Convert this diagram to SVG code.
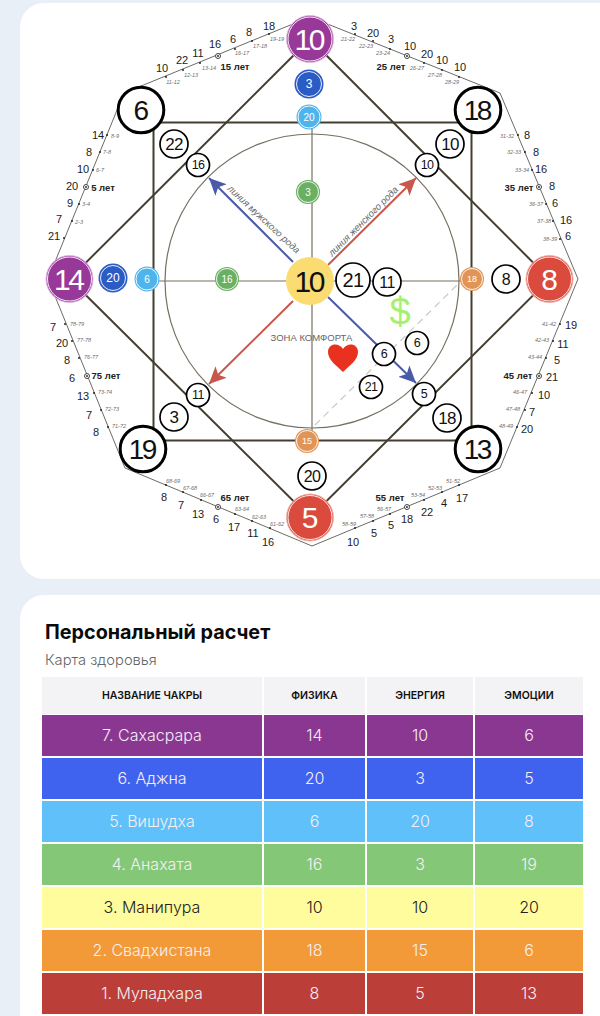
<svg xmlns="http://www.w3.org/2000/svg" width="600" height="1016" viewBox="0 0 600 1016">
<style>
text{font-family:"Liberation Sans",Arial,sans-serif;text-anchor:middle;dominant-baseline:central}
.n{fill:#1c1c1c;font-size:11px}
.s{fill:#6d6d6d;font-size:5.500px;font-style:italic}
.a{fill:#222;font-size:9.500px;font-weight:bold}
.d{fill:#222}
.r{fill:#fff;stroke:#444;stroke-width:1}
.rd{fill:#333}
.oct{fill:none;stroke:#5a5a52;stroke-width:.9}
.th{fill:none;stroke:#443e30;stroke-width:2}
.thin{fill:none;stroke:#777062;stroke-width:1.2}
.c{fill:#fff;stroke:#000;stroke-width:1.700}
.cb{fill:#fff;stroke:#000;stroke-width:3}
.t{fill:#111;letter-spacing:-.6px}
.big{letter-spacing:-2.500px;transform:translateX(-1.250px)}
.w{fill:#fff}
.ring{fill:none;stroke:#fff;stroke-width:.9}
.th1{font-family:"Inter","Noto Sans",sans-serif;font-size:10.500px;font-weight:600;fill:#111}
.td{font-family:"Inter","Noto Sans",sans-serif;font-size:16px;font-weight:300;fill:#f5eef3}
.lbl{font-size:9.500px;font-style:italic;fill:#666}
</style>
<defs>
<marker id="ab" markerUnits="userSpaceOnUse" markerWidth="20" markerHeight="18" refX="17" refY="9" orient="auto"><path d="M0 1L17 9L0 17L4 9Z" fill="#4a5aa8"/></marker>
<marker id="ar" markerUnits="userSpaceOnUse" markerWidth="20" markerHeight="18" refX="17" refY="9" orient="auto"><path d="M0 1L17 9L0 17L4 9Z" fill="#c8574c"/></marker>
</defs>
<rect width="600" height="1016" fill="#e9eff7"/>
<rect x="20" y="3" width="620" height="576" rx="24" fill="#fff"/>
<rect x="20" y="595" width="620" height="460" rx="24" fill="#fff"/>

<g id="connectors">
<path class="oct" d="M310 17L500 93L578 279L500 468L312 546L125 468L48 279L124 93Z"/>
<rect class="th" x="153.500" y="122.500" width="318" height="318"/>
<path class="th" d="M310 39L549.500 279L310 517.500L69.500 279Z"/>
<circle class="thin" cx="312" cy="281" r="147"/>
<path class="thin" d="M312 117V441M147 281H472"/>
<path d="M315 425L457 285" fill="none" stroke="#c9c9c9" stroke-width="1.200" stroke-dasharray="7 5"/>
<path d="M293 262L209 178" fill="none" stroke="#4a5aa8" stroke-width="2" marker-end="url(#ab)"/>
<path d="M328 297L416 383" fill="none" stroke="#4a5aa8" stroke-width="2" marker-end="url(#ab)"/>
<path d="M328 265L416 178" fill="none" stroke="#c8574c" stroke-width="2" marker-end="url(#ar)"/>
<path d="M293 301L209 384" fill="none" stroke="#c8574c" stroke-width="2" marker-end="url(#ar)"/>
</g>

<g id="labels">
<text class="lbl" transform="translate(264 219) rotate(43)">линия мужского рода</text>
<text class="lbl" transform="translate(363 221) rotate(-45)">линия женского рода</text>
<text x="311.500" y="337" font-size="9.500" fill="#666">ЗОНА КОМФОРТА</text>
<text x="400" y="312" font-size="38" fill="#a5f06e">$</text>
<path id="heart" d="M343 372C336 365 328 360 328 352C328 343 339 342 343 349C347 342 358 343 358 352C358 360 350 365 343 372Z" fill="#e8321f"/>
</g>

<g id="node-top"><circle cx="310" cy="39" r="23.500" fill="#98399a" stroke="#e5b6e4"/><circle class="ring" cx="310" cy="39" r="22"/><text class="w big" x="310" y="39" font-size="30">10</text></g>
<g id="node-left"><circle cx="69.500" cy="279" r="23.500" fill="#98399a" stroke="#e5b6e4"/><circle class="ring" cx="69.500" cy="279" r="22"/><text class="w big" x="69.500" y="279" font-size="30">14</text></g>
<g id="node-right"><circle cx="549.500" cy="279" r="23.500" fill="#da4a3d" stroke="#f3b3a8"/><circle class="ring" cx="549.500" cy="279" r="22"/><text class="w" x="549.500" y="279" font-size="30">8</text></g>
<g id="node-bottom"><circle cx="310" cy="517.500" r="23.500" fill="#da4a3d" stroke="#f3b3a8"/><circle class="ring" cx="310" cy="517.500" r="22"/><text class="w" x="310" y="517.500" font-size="30">5</text></g>
<g id="node-center"><circle cx="310" cy="281" r="24" fill="#fbdc72"/><text class="t big" x="310" y="281" font-size="30">10</text></g>

<g id="node-6"><circle class="cb" cx="141" cy="110" r="22.800"/><text class="t" x="141" y="110" font-size="28">6</text></g>
<g id="node-18"><circle class="cb" cx="478" cy="110" r="22.800"/><text class="t big" x="478" y="110" font-size="28">18</text></g>
<g id="node-19"><circle class="cb" cx="143" cy="449" r="22.800"/><text class="t big" x="143" y="449" font-size="28">19</text></g>
<g id="node-13"><circle class="cb" cx="478" cy="449" r="22.800"/><text class="t big" x="478" y="449" font-size="28">13</text></g>

<g id="node-b3"><circle cx="309" cy="84" r="14.500" fill="#2b5bc4"/><circle class="ring" cx="309" cy="84" r="12.500"/><text class="w" x="309" y="84" font-size="12">3</text></g>
<g id="node-lb20"><circle cx="309" cy="117" r="12.500" fill="#4fb4ec"/><circle class="ring" cx="309" cy="117" r="11"/><text class="w" x="309" y="117" font-size="10">20</text></g>
<g id="node-g3"><circle cx="308" cy="192" r="12" fill="#6aaf62"/><circle class="ring" cx="308" cy="192" r="10.500"/><text class="w" x="308" y="192" font-size="10">3</text></g>
<g id="node-b20"><circle cx="113" cy="278" r="14.500" fill="#2b5bc4"/><circle class="ring" cx="113" cy="278" r="12.500"/><text class="w" x="113" y="278" font-size="12">20</text></g>
<g id="node-lb6"><circle cx="147" cy="279" r="12.500" fill="#4fb4ec"/><circle class="ring" cx="147" cy="279" r="11"/><text class="w" x="147" y="279" font-size="10">6</text></g>
<g id="node-g16"><circle cx="227" cy="279" r="12" fill="#6aaf62"/><circle class="ring" cx="227" cy="279" r="10.500"/><text class="w" x="227" y="279" font-size="10">16</text></g>
<g id="node-o18"><circle cx="472" cy="279" r="12" fill="#e19455"/><circle class="ring" cx="472" cy="279" r="10.500"/><text class="w" x="472" y="279" font-size="9">18</text></g>
<g id="node-o15"><circle cx="307" cy="441" r="12" fill="#e19455"/><circle class="ring" cx="307" cy="441" r="10.500"/><text class="w" x="307" y="441" font-size="9">15</text></g>

<g id="node-c21"><circle class="c" cx="353" cy="280" r="17"/><text class="t" x="353" y="280" font-size="20">21</text></g>
<g id="node-c11"><circle class="c" cx="387" cy="282" r="14"/><text class="t" x="387" y="282" font-size="16">11</text></g>
<g id="node-c8"><circle class="c" cx="506" cy="279" r="14"/><text class="t" x="506" y="279" font-size="16">8</text></g>
<g id="node-c20"><circle class="c" cx="312" cy="476" r="14"/><text class="t" x="312" y="476" font-size="16">20</text></g>
<g id="node-c22"><circle class="c" cx="174" cy="144" r="14"/><text class="t" x="174" y="144" font-size="17">22</text></g>
<g id="node-c16"><circle class="c" cx="198" cy="165" r="11.500"/><text class="t" x="198" y="165" font-size="12.500">16</text></g>
<g id="node-c10a"><circle class="c" cx="450" cy="144" r="14"/><text class="t" x="450" y="144" font-size="17">10</text></g>
<g id="node-c10b"><circle class="c" cx="427" cy="165" r="11.500"/><text class="t" x="427" y="165" font-size="12.500">10</text></g>
<g id="node-c11b"><circle class="c" cx="198" cy="395" r="11.500"/><text class="t" x="198" y="395" font-size="12.500">11</text></g>
<g id="node-c3"><circle class="c" cx="174" cy="417" r="14"/><text class="t" x="174" y="417" font-size="17">3</text></g>
<g id="node-c5"><circle class="c" cx="424" cy="394" r="11.500"/><text class="t" x="424" y="394" font-size="12.500">5</text></g>
<g id="node-c18"><circle class="c" cx="447" cy="418" r="14"/><text class="t" x="447" y="418" font-size="17">18</text></g>
<g id="node-c6a"><circle class="c" cx="384" cy="354" r="11.500"/><text class="t" x="384" y="354" font-size="12.500">6</text></g>
<g id="node-c6b"><circle class="c" cx="417" cy="343" r="11.500"/><text class="t" x="417" y="343" font-size="12.500">6</text></g>
<g id="node-c21b"><circle class="c" cx="371" cy="387" r="11.500"/><text class="t" x="371" y="387" font-size="12.500">21</text></g>

<g id="ages">
<g class="d"><circle cx="166" cy="77" r="1"/><circle cx="183" cy="70" r="1"/><circle cx="200" cy="63" r="1"/><circle cx="235" cy="49" r="1"/><circle cx="252" cy="41" r="1"/><circle cx="269" cy="34" r="1"/>
<circle cx="107" cy="135" r="1"/><circle cx="100" cy="152" r="1"/><circle cx="93" cy="170" r="1"/><circle cx="79" cy="204" r="1"/><circle cx="72" cy="221" r="1"/><circle cx="64" cy="238" r="1"/>
<circle cx="355" cy="34" r="1"/><circle cx="373" cy="41" r="1"/><circle cx="390" cy="49" r="1"/><circle cx="424" cy="63" r="1"/><circle cx="442" cy="70" r="1"/><circle cx="459" cy="77" r="1"/>
<circle cx="518" cy="135" r="1"/><circle cx="525" cy="152" r="1"/><circle cx="532" cy="170" r="1"/><circle cx="546" cy="204" r="1"/><circle cx="553" cy="221" r="1"/><circle cx="560" cy="239" r="1"/>
<circle cx="65" cy="324" r="1"/><circle cx="72" cy="341" r="1"/><circle cx="79" cy="358" r="1"/><circle cx="94" cy="393" r="1"/><circle cx="101" cy="410" r="1"/><circle cx="108" cy="427" r="1"/>
<circle cx="166" cy="485" r="1"/><circle cx="183" cy="492" r="1"/><circle cx="201" cy="500" r="1"/><circle cx="235" cy="514" r="1"/><circle cx="252" cy="521" r="1"/><circle cx="270" cy="528" r="1"/>
<circle cx="355" cy="528" r="1"/><circle cx="373" cy="521" r="1"/><circle cx="390" cy="514" r="1"/><circle cx="424" cy="500" r="1"/><circle cx="442" cy="492" r="1"/><circle cx="459" cy="485" r="1"/>
<circle cx="560" cy="324" r="1"/><circle cx="553" cy="341" r="1"/><circle cx="546" cy="358" r="1"/><circle cx="532" cy="393" r="1"/><circle cx="525" cy="410" r="1"/><circle cx="517" cy="427" r="1"/></g>
<g><circle class="r" cx="218" cy="56" r="2.500"/><circle class="rd" cx="218" cy="56" r="1"/><circle class="r" cx="86" cy="187" r="2.500"/><circle class="rd" cx="86" cy="187" r="1"/><circle class="r" cx="407" cy="56" r="2.500"/><circle class="rd" cx="407" cy="56" r="1"/><circle class="r" cx="539" cy="187" r="2.500"/><circle class="rd" cx="539" cy="187" r="1"/><circle class="r" cx="87" cy="376" r="2.500"/><circle class="rd" cx="87" cy="376" r="1"/><circle class="r" cx="218" cy="507" r="2.500"/><circle class="rd" cx="218" cy="507" r="1"/><circle class="r" cx="407" cy="507" r="2.500"/><circle class="rd" cx="407" cy="507" r="1"/><circle class="r" cx="539" cy="376" r="2.500"/><circle class="rd" cx="539" cy="376" r="1"/></g>
<text class="n" x="162" y="68">10</text><text class="n" x="182" y="60">22</text><text class="n" x="198" y="53">11</text><text class="n" x="215" y="44">16</text><text class="n" x="233" y="39">6</text><text class="n" x="249" y="32">8</text><text class="n" x="269" y="26">18</text>
<text class="s" x="173" y="82">11-12</text><text class="s" x="191" y="75">12-13</text><text class="s" x="209" y="68">13-14</text><text class="s" x="242" y="53">16-17</text><text class="s" x="260" y="46">17-18</text><text class="s" x="277" y="39">19-19</text><text class="a" x="235" y="66">15 лет</text>
<text class="n" x="98" y="135">14</text><text class="n" x="89" y="152">8</text><text class="n" x="83" y="169">10</text><text class="n" x="72" y="186">20</text><text class="n" x="70" y="203">9</text><text class="n" x="59" y="219">7</text><text class="n" x="54" y="236">21</text>
<text class="s" x="115" y="136">8-9</text><text class="s" x="107" y="152">7-8</text><text class="s" x="100" y="170">6-7</text><text class="s" x="86" y="204">3-4</text><text class="s" x="79" y="222">2-3</text><text class="a" x="103" y="187">5 лет</text>
<text class="n" x="354" y="26">3</text><text class="n" x="373" y="33">20</text><text class="n" x="391" y="39">3</text><text class="n" x="410" y="46">10</text><text class="n" x="427" y="54">20</text><text class="n" x="442" y="60">10</text><text class="n" x="460" y="67">10</text>
<text class="s" x="348" y="39">21-22</text><text class="s" x="366" y="46">22-23</text><text class="s" x="383" y="53">23-24</text><text class="s" x="417" y="68">26-27</text><text class="s" x="435" y="75">27-28</text><text class="s" x="452" y="82">28-29</text><text class="a" x="391" y="66">25 лет</text>
<text class="n" x="527" y="135">8</text><text class="n" x="536" y="152">8</text><text class="n" x="541" y="169">16</text><text class="n" x="552" y="186">8</text><text class="n" x="555" y="203">6</text><text class="n" x="566" y="220">16</text><text class="n" x="568" y="236">6</text>
<text class="s" x="507" y="136">31-32</text><text class="s" x="514" y="152">32-33</text><text class="s" x="522" y="170">33-34</text><text class="s" x="536" y="204">36-37</text><text class="s" x="544" y="221">37-38</text><text class="s" x="550" y="239">38-39</text><text class="a" x="519" y="187">35 лет</text>
<text class="n" x="53" y="327">7</text><text class="n" x="62" y="343">20</text><text class="n" x="67" y="360">8</text><text class="n" x="72" y="378">6</text><text class="n" x="83" y="396">13</text><text class="n" x="89" y="415">7</text><text class="n" x="96" y="432">8</text>
<text class="s" x="77" y="324">78-79</text><text class="s" x="84" y="340">77-78</text><text class="s" x="91" y="357">76-77</text><text class="s" x="105" y="392">73-74</text><text class="s" x="112" y="409">72-73</text><text class="s" x="119" y="426">71-72</text><text class="a" x="106" y="375">75 лет</text>
<text class="n" x="164" y="497">8</text><text class="n" x="181" y="505">7</text><text class="n" x="198" y="514">13</text><text class="n" x="216" y="519">6</text><text class="n" x="234" y="527">17</text><text class="n" x="253" y="533">11</text><text class="n" x="268" y="542">16</text>
<text class="s" x="173" y="481">68-69</text><text class="s" x="190" y="488">67-68</text><text class="s" x="207" y="495">66-67</text><text class="s" x="242" y="509">63-64</text><text class="s" x="259" y="517">62-63</text><text class="s" x="277" y="524">61-62</text><text class="a" x="235" y="497">65 лет</text>
<text class="n" x="353" y="542">10</text><text class="n" x="374" y="533">5</text><text class="n" x="391" y="525">5</text><text class="n" x="407" y="519">18</text><text class="n" x="427" y="512">22</text><text class="n" x="444" y="503">4</text><text class="n" x="462" y="498">17</text>
<text class="s" x="349" y="524">58-59</text><text class="s" x="367" y="516">57-58</text><text class="s" x="384" y="509">56-57</text><text class="s" x="418" y="495">53-54</text><text class="s" x="435" y="488">52-53</text><text class="s" x="453" y="481">51-52</text><text class="a" x="390" y="497">55 лет</text>
<text class="n" x="571" y="325">19</text><text class="n" x="563" y="344">11</text><text class="n" x="557" y="360">5</text><text class="n" x="552" y="377">21</text><text class="n" x="544" y="395">10</text><text class="n" x="532" y="412">7</text><text class="n" x="527" y="429">20</text>
<text class="s" x="549" y="324">41-42</text><text class="s" x="542" y="340">42-43</text><text class="s" x="535" y="357">43-44</text><text class="s" x="520" y="392">46-47</text><text class="s" x="513" y="409">47-48</text><text class="s" x="506" y="426">48-49</text><text class="a" x="518" y="375">45 лет</text>
</g>

<g id="table">
<text x="45" y="632" style="text-anchor:start;font-family:Inter,'Noto Sans',sans-serif;font-weight:700;font-size:19.800px;fill:#0a0a0a">Персональный расчет</text>
<text x="45" y="660" style="text-anchor:start;font-family:Inter,'Noto Sans',sans-serif;font-weight:300;font-size:14.700px;fill:#666">Карта здоровья</text>
<g fill="#f3f3f5"><rect x="42" y="677" width="220" height="37"/><rect x="264" y="677" width="101" height="37"/><rect x="367" y="677" width="106" height="37"/><rect x="475" y="677" width="108" height="37"/></g>
<text class="th1" x="152" y="695">НАЗВАНИЕ ЧАКРЫ</text><text class="th1" x="314.500" y="695">ФИЗИКА</text><text class="th1" x="420" y="695">ЭНЕРГИЯ</text><text class="th1" x="529" y="695">ЭМОЦИИ</text>

<g fill="#8a3791"><rect x="42" y="715" width="220" height="41"/><rect x="264" y="715" width="101" height="41"/><rect x="367" y="715" width="106" height="41"/><rect x="475" y="715" width="108" height="41"/></g>
<text class="td" x="152" y="735">7. Сахасрара</text><text class="td" x="314.500" y="735">14</text><text class="td" x="420" y="735">10</text><text class="td" x="529" y="735">6</text>
<g fill="#3f62ef"><rect x="42" y="758" width="220" height="41"/><rect x="264" y="758" width="101" height="41"/><rect x="367" y="758" width="106" height="41"/><rect x="475" y="758" width="108" height="41"/></g>
<text class="td" x="152" y="778">6. Аджна</text><text class="td" x="314.500" y="778">20</text><text class="td" x="420" y="778">3</text><text class="td" x="529" y="778">5</text>
<g fill="#5fc0fa"><rect x="42" y="801" width="220" height="41"/><rect x="264" y="801" width="101" height="41"/><rect x="367" y="801" width="106" height="41"/><rect x="475" y="801" width="108" height="41"/></g>
<text class="td" x="152" y="821">5. Вишудха</text><text class="td" x="314.500" y="821">6</text><text class="td" x="420" y="821">20</text><text class="td" x="529" y="821">8</text>
<g fill="#84c877"><rect x="42" y="844" width="220" height="41"/><rect x="264" y="844" width="101" height="41"/><rect x="367" y="844" width="106" height="41"/><rect x="475" y="844" width="108" height="41"/></g>
<text class="td" x="152" y="864">4. Анахата</text><text class="td" x="314.500" y="864">16</text><text class="td" x="420" y="864">3</text><text class="td" x="529" y="864">19</text>
<g fill="#fefc9c"><rect x="42" y="887" width="220" height="41"/><rect x="264" y="887" width="101" height="41"/><rect x="367" y="887" width="106" height="41"/><rect x="475" y="887" width="108" height="41"/></g>
<text class="td" style="fill:#222" x="152" y="907">3. Манипура</text><text class="td" style="fill:#222" x="314.500" y="907">10</text><text class="td" style="fill:#222" x="420" y="907">10</text><text class="td" style="fill:#222" x="529" y="907">20</text>
<g fill="#f29a38"><rect x="42" y="930" width="220" height="41"/><rect x="264" y="930" width="101" height="41"/><rect x="367" y="930" width="106" height="41"/><rect x="475" y="930" width="108" height="41"/></g>
<text class="td" x="152" y="950">2. Свадхистана</text><text class="td" x="314.500" y="950">18</text><text class="td" x="420" y="950">15</text><text class="td" x="529" y="950">6</text>
<g fill="#bb3e39"><rect x="42" y="973" width="220" height="41"/><rect x="264" y="973" width="101" height="41"/><rect x="367" y="973" width="106" height="41"/><rect x="475" y="973" width="108" height="41"/></g>
<text class="td" x="152" y="993">1. Муладхара</text><text class="td" x="314.500" y="993">8</text><text class="td" x="420" y="993">5</text><text class="td" x="529" y="993">13</text>
</g>
</svg>
